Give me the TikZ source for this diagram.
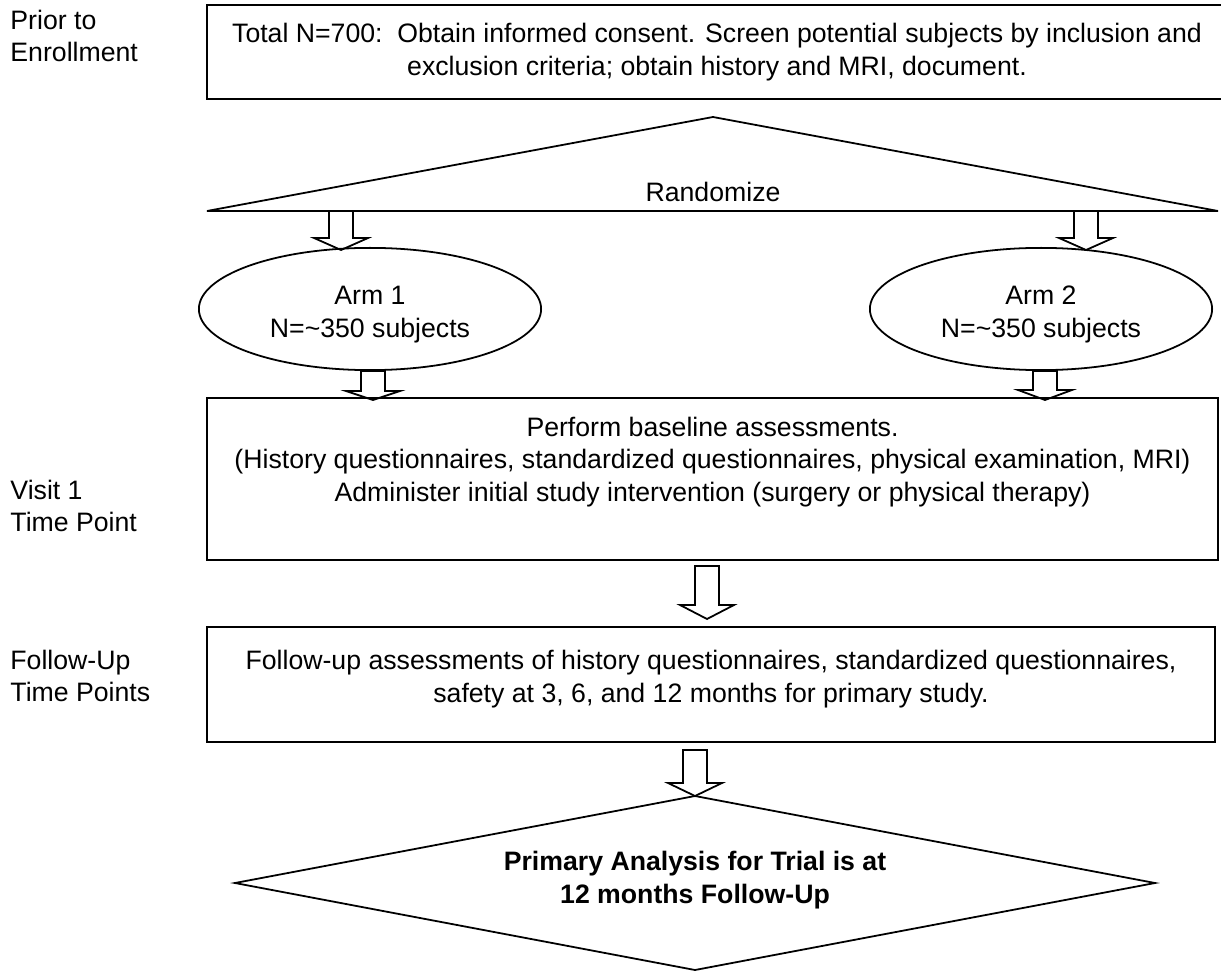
\documentclass[tikz,border=0pt]{standalone}
\usepackage{fontspec}
\setmainfont{Liberation Sans}
\usetikzlibrary{shapes.geometric, positioning}

\tikzset{
  box/.style={draw, line width=0.9pt, inner sep=0pt, align=center},
  armnode/.style={draw, ellipse, line width=0.8pt, inner sep=0pt, align=center,
    minimum width=154pt, minimum height=55pt},
  stage/.style={anchor=west, align=left, inner sep=0pt},
  txt/.style={align=center, inner sep=0pt},
  hollow/.style={draw, line width=0.8pt},
}

\begin{document}
\begin{tikzpicture}[x=0.45pt, y=-0.45pt, font=\fontsize{12}{14.6}\selectfont]
  \useasboundingbox (0,0) rectangle (1221,972);
  % --- stage labels ---
  \node[stage] (prior) at (10,36) {Prior to\\Enrollment};
  \node[stage] (visit) at (10,506) {Visit 1\\Time Point};
  \node[stage] (follow) at (10,676) {Follow-Up\\Time Points};
  % --- screening ---
  \node[box, minimum width=459pt, minimum height=42.3pt] (consent) at (717,52)
    {Total N=700:\ \ Obtain informed consent. Screen potential subjects by inclusion and\\
     exclusion criteria; obtain history and MRI, document.};
  % --- randomize ---
  \coordinate (rL) at (207,211);
  \coordinate (rT) at (713,117);
  \coordinate (rR) at (1218,211);
  \draw[line width=0.8pt] (rL) -- (rT) -- (rR) -- cycle;
  \node[txt] (rand) at (713,192) {Randomize};
  % --- arms ---
  \node[armnode] (arm1) at (370,309) {};
  \node[txt] (arm1text) at (370,314.5) {Arm 1\\N=\textasciitilde350 subjects};
  \node[armnode] (arm2) at (1041,309) {};
  \node[txt] (arm2text) at (1041,314.5) {Arm 2\\N=\textasciitilde350 subjects};
  % --- visit 1 ---
  \node[box, line width=0.75pt, minimum width=455pt, minimum height=72.9pt] (base) at (712.5,479) {};
  \node[txt] (basetext) at (712.5,462) {Perform baseline assessments.\\
    (History questionnaires, standardized questionnaires, physical examination, MRI)\\
    Administer initial study intervention (surgery or physical therapy)};
  % --- follow-up ---
  \node[box, line width=1.2pt, minimum width=453.6pt, minimum height=51.8pt] (fup) at (711,684.5) {};
  \node[txt] (fuptext) at (711,679) {Follow-up assessments of history questionnaires, standardized questionnaires,\\
    safety at 3, 6, and 12 months for primary study.};
  % --- primary analysis ---
  \coordinate (dT) at (695,796);
  \coordinate (dR) at (1155,883);
  \coordinate (dB) at (695,970);
  \coordinate (dL) at (235,883);
  \draw[line width=0.8pt] (dT) -- (dR) -- (dB) -- (dL) -- cycle;
  \node[txt, font=\fontsize{12}{14.6}\selectfont\bfseries] (primary) at (695,880)
    {Primary Analysis for Trial is at\\12 months Follow-Up};
  % --- block arrows ---
  \foreach \x/\ya/\yb/\yc in {341/211/238/250, 1086/211/238/250, 373/371/391/400,
      1045/371/390/400, 707/566/605/619, 695/750/783/796}
    \draw[hollow] (\x-12,\ya) -- (\x-12,\yb) -- (\x-27,\yb) -- (\x,\yc)
      -- (\x+27,\yb) -- (\x+12,\yb) -- (\x+12,\ya) -- cycle;
\end{tikzpicture}
\end{document}
